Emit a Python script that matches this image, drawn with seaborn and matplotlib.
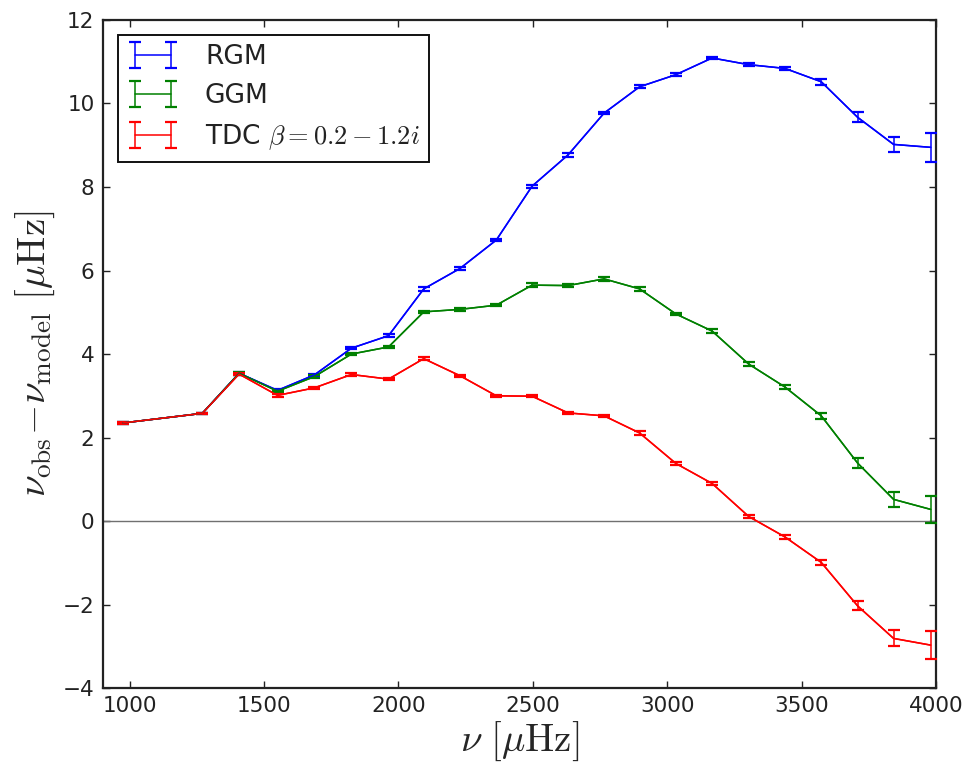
import numpy as np
import pandas as pd
import matplotlib
matplotlib.use("Agg")
import matplotlib.pyplot as plt
import seaborn as sns

# ---- data ----
freq = [975, 1270, 1407, 1550, 1687, 1825, 1963, 2094, 2229, 2364, 2497,
        2631, 2765, 2897, 3032, 3167, 3303, 3438, 3573, 3708, 3842, 3980]

rgm = [2.35, 2.58, 3.54, 3.13, 3.50, 4.14, 4.44, 5.56, 6.05, 6.73, 8.02,
       8.77, 9.77, 10.40, 10.69, 11.09, 10.93, 10.84, 10.52, 9.67, 9.02, 8.95]
rgm_err = [0.02, 0.02, 0.03, 0.03, 0.03, 0.03, 0.03, 0.04, 0.04, 0.03, 0.04,
           0.04, 0.03, 0.04, 0.03, 0.03, 0.03, 0.04, 0.07, 0.12, 0.18, 0.34]

ggm = [2.35, 2.58, 3.54, 3.11, 3.46, 4.00, 4.17, 5.01, 5.07, 5.17, 5.65,
       5.64, 5.80, 5.56, 4.96, 4.55, 3.76, 3.21, 2.52, 1.39, 0.52, 0.28]
ggm_err = [0.02, 0.02, 0.03, 0.03, 0.03, 0.03, 0.03, 0.03, 0.03, 0.03, 0.04,
           0.03, 0.04, 0.04, 0.03, 0.04, 0.04, 0.04, 0.07, 0.12, 0.18, 0.32]

tdc = [2.35, 2.58, 3.52, 3.01, 3.19, 3.51, 3.40, 3.89, 3.48, 3.00, 2.99,
       2.59, 2.52, 2.11, 1.38, 0.90, 0.11, -0.38, -0.99, -2.03, -2.81, -2.97]
tdc_err = [0.02, 0.02, 0.03, 0.03, 0.03, 0.03, 0.03, 0.03, 0.03, 0.03, 0.03,
           0.03, 0.03, 0.04, 0.03, 0.04, 0.04, 0.04, 0.07, 0.11, 0.19, 0.33]

labels = ["RGM", "GGM", r"TDC $\beta=0.2-1.2i$"]
colors = ["#0000ff", "#008000", "#ff0000"]

xticks = [1000, 1500, 2000, 2500, 3000, 3500, 4000]
yticks = [-4, -2, 0, 2, 4, 6, 8, 10, 12]

# ---- style ----
sns.set_theme(style="ticks")
plt.rcParams["font.family"] = ["DejaVu Sans"]
plt.rcParams["mathtext.fontset"] = "cm"

fig = plt.figure(figsize=(9.7, 7.68), dpi=100)
ax = fig.add_axes([0.106, 0.104, 0.859, 0.870])

df = pd.concat([
    pd.DataFrame({"freq": freq, "val": v, "series": lab})
    for v, lab in zip([rgm, ggm, tdc], labels)
])

ax.axhline(0, color="#707070", lw=1.0, zorder=1)

sns.lineplot(data=df, x="freq", y="val", hue="series", hue_order=labels,
             palette=colors, lw=1.1, ax=ax, legend=False, zorder=2)

handles = []
for v, e, c, lab in zip([rgm, ggm, tdc], [rgm_err, ggm_err, tdc_err], colors, labels):
    h = ax.errorbar(freq, v, yerr=e, fmt="-", color=c, lw=1.1, elinewidth=1.1,
                    capsize=4.5, capthick=1.6, label=lab, zorder=3)
    handles.append(h)

ax.set_xlim(900, 4000)
ax.set_ylim(-4, 12)
ax.set_xticks(xticks)
ax.set_yticks(yticks)
ax.set_yticklabels([f"{t}" if t >= 0 else f"\u2212{abs(t)}" for t in yticks])

ax.tick_params(direction="in", length=5, width=1, top=True, right=True,
               labelsize=15.5, colors="#222222", pad=6)
ax.tick_params(axis="both", labelcolor="#222222")
for s in ax.spines.values():
    s.set_visible(True)
    s.set_color("#222222")
    s.set_linewidth(1.6)

ax.set_xlabel(r"$\nu\ [\mu{\rm Hz}]$", fontsize=28, labelpad=2)
ax.set_ylabel(r"$\nu_{\rm obs}\!-\!\nu_{\rm model}\ [\mu{\rm Hz}]$", fontsize=28, labelpad=4)

leg = ax.legend(handles=handles, labels=labels, loc="upper left", numpoints=2,
                fontsize=19, frameon=True, fancybox=False, borderaxespad=0.56,
                handlelength=1.95, handletextpad=1.0, labelspacing=0.5,
                borderpad=0.36)
leg.get_frame().set_edgecolor("#111111")
leg.get_frame().set_linewidth(1.4)
leg.get_frame().set_alpha(1)
for t in leg.get_texts():
    t.set_color("#222222")

fig.savefig("out.png", dpi=100, facecolor="white")
